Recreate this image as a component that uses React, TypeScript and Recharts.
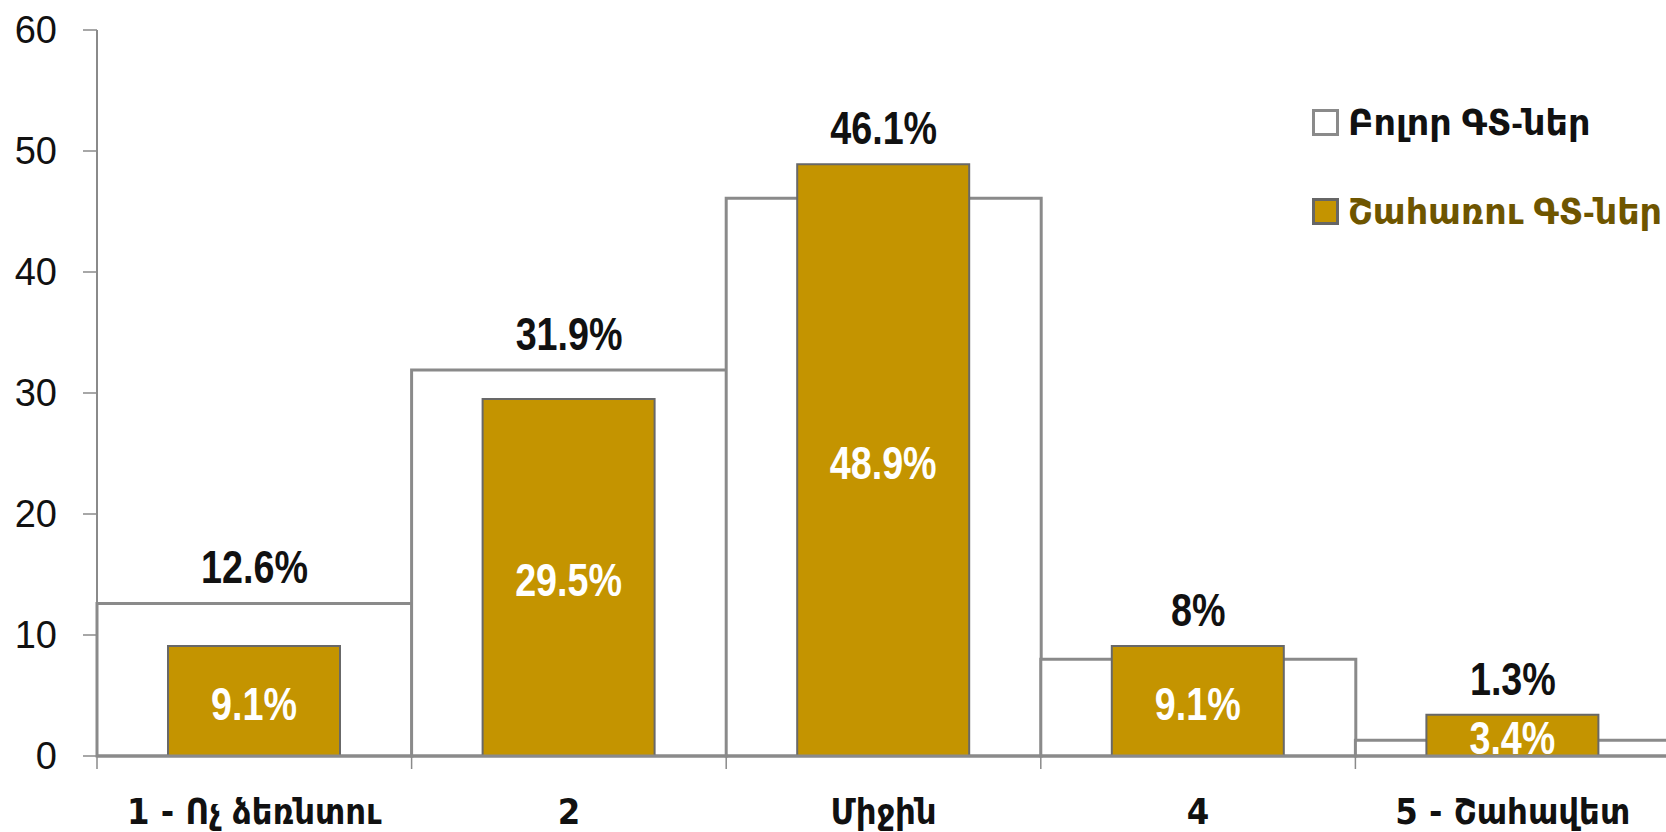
import React from 'react';
import { BarChart, Bar, XAxis, YAxis, LabelList, Legend } from 'recharts';

const categories = ['1 - Ոչ ձեռնտու', '2', 'Միջին', '4', '5 - Շահավետ'];
const allValues = [12.6, 31.9, 46.1, 8, 1.3];
const benValues = [9.1, 29.5, 48.9, 9.1, 3.4];
const yTicks = [0, 10, 20, 30, 40, 50, 60];
const seriesNames = ['Բոլոր ԳՏ-ներ', 'Շահառու ԳՏ-ներ'];

const data = categories.map((c, i) => ({ cat: c, all: allValues[i], ben: benValues[i] }));

const W = 1700;
const H = 832;
const M = { top: 30, right: 30, left: 0, bottom: 0 };
const Y_W = 97;
const BAND = (W - M.left - M.right - Y_W) / categories.length;

const NARROW = "'Liberation Sans Narrow', 'DejaVu Sans Condensed', 'Liberation Sans', sans-serif";
const SANS = "'Liberation Sans', 'DejaVu Sans', sans-serif";
const AXIS_GRAY = '#8a8a8a';
const GOLD = '#C49400';

const NarrowText = ({ cx, cy, fill, children }: any) => (
  <text
    transform={`translate(${cx},${cy}) scale(0.82,1)`}
    x={0}
    y={0}
    textAnchor="middle"
    dominantBaseline="central"
    fontFamily={SANS}
    fontWeight="bold"
    fontSize={46}
    fill={fill}
  >
    {children}
  </text>
);

const XTick = (props: any) => {
  const { x, y, payload, index } = props;
  const half = BAND / 2;
  return (
    <g>
      <line x1={x - half} x2={x - half} y1={y} y2={y + 13} stroke={AXIS_GRAY} strokeWidth={1.5} />
      {index === categories.length - 1 && (
        <line x1={x + half} x2={x + half} y1={y} y2={y + 13} stroke={AXIS_GRAY} strokeWidth={1.5} />
      )}
      <text x={x} y={y + 55} textAnchor="middle" dominantBaseline="central" fontFamily={NARROW} fontWeight="bold" fontSize={36} fill="#111">
        {payload.value}
      </text>
    </g>
  );
};

const AllLabel = (props: any) => {
  const { x, y, width, height, value, index } = props;
  const ratio = benValues[index] / allValues[index];
  const yBen = y + height - height * ratio;
  const top = Math.min(y, yBen);
  return (
    <NarrowText cx={x + width / 2} cy={top - 36} fill="#111">
      {value}%
    </NarrowText>
  );
};

const BenLabel = (props: any) => {
  const { x, y, width, height, value } = props;
  return (
    <NarrowText cx={x + width / 2} cy={y + height / 2 + 3} fill="#fff">
      {value}%
    </NarrowText>
  );
};

const LegendContent = () => {
  const items = [
    { name: seriesNames[0], fill: '#fff', stroke: '#8a8a8a', color: '#111' },
    { name: seriesNames[1], fill: GOLD, stroke: '#666', color: '#6e5500' },
  ];
  return (
    <div style={{ display: 'flex', flexDirection: 'column' }}>
      {items.map((it, i) => (
        <div key={i} style={{ display: 'flex', alignItems: 'center', height: 30, marginBottom: i === 0 ? 59 : 0 }}>
          <svg width={28} height={28} style={{ marginRight: 8 }}>
            <rect x={1.5} y={1.5} width={24} height={24} fill={it.fill} stroke={it.stroke} strokeWidth={3} />
          </svg>
          <span style={{ fontFamily: SANS, fontWeight: 'bold', fontSize: 35, color: it.color, whiteSpace: 'nowrap' }}>{it.name}</span>
        </div>
      ))}
    </div>
  );
};

export default function App() {
  return (
    <div style={{ position: 'absolute', left: 0, top: 0, width: 1666, height: 832, overflow: 'hidden', background: '#fff' }}>
      <BarChart width={W} height={H} data={data} margin={M} barCategoryGap={0} barGap={0}>
        <YAxis
          width={Y_W}
          domain={[0, 60]}
          ticks={yTicks}
          interval={0}
          axisLine={{ stroke: AXIS_GRAY, strokeWidth: 2 }}
          tickLine={{ stroke: AXIS_GRAY, strokeWidth: 1.5 }}
          tickSize={14}
          tickMargin={26}
          tick={{ fontFamily: SANS, fontSize: 38, fill: '#111' }}
        />
        <XAxis
          xAxisId="all"
          dataKey="cat"
          height={76}
          interval={0}
          axisLine={{ stroke: AXIS_GRAY, strokeWidth: 3 }}
          tickLine={false}
          tickSize={0}
          tickMargin={0}
          tick={<XTick />}
        />
        <XAxis xAxisId="ben" dataKey="cat" hide />
        <Legend
          verticalAlign="middle"
          align="center"
          layout="vertical"
          content={<LegendContent />}
          wrapperStyle={{ position: 'absolute', left: 1312, top: 108, width: 360 }}
        />
        <Bar xAxisId="all" dataKey="all" name={seriesNames[0]} fill="#fff" stroke="#8a8a8a" strokeWidth={3} isAnimationActive={false}>
          <LabelList dataKey="all" content={<AllLabel />} />
        </Bar>
        <Bar xAxisId="ben" dataKey="ben" name={seriesNames[1]} fill={GOLD} stroke="#686868" strokeWidth={2} barSize={172} isAnimationActive={false}>
          <LabelList dataKey="ben" content={<BenLabel />} />
        </Bar>
      </BarChart>
    </div>
  );
}
